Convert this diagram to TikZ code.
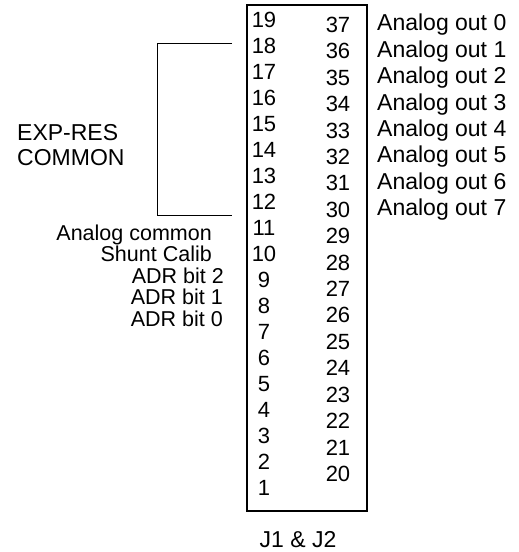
\documentclass[tikz,border=0pt]{standalone}
\usepackage{fontspec}
\setmainfont{Liberation Sans}
\begin{document}
\begin{tikzpicture}[x=1pt,y=-1pt,
  lbl/.style={inner sep=0pt,font=\fontsize{23}{23}\selectfont},
  pinnum/.style={inner sep=0pt,anchor=center,font=\fontsize{22}{22}\selectfont},
  leftlbl/.style={inner sep=0pt,anchor=base east,font=\fontsize{21.5}{21.5}\selectfont},
  rightlbl/.style={lbl,anchor=west},
  boxline/.style={line width=1.3pt},
  wire/.style={line width=0.8pt}]
\useasboundingbox (0,0) rectangle (519,552);
% connector body
\draw[boxline] (247,5) rectangle (367,511);
% left column 19..1
\foreach \n [count=\i from 0] in {19,...,1}{
  \node[pinnum] (L\n) at (264,{20+\i*26.0}) {\n};
}
% right column 37..20
\foreach \n [count=\i from 0] in {37,...,20}{
  \node[pinnum] (R\n) at (338,{25+\i*26.4}) {\n};
}
% analog out labels
\foreach \k in {0,...,7}{
  \node[rightlbl] (A\k) at (377,{25+\k*26.4}) {Analog out \k};
}
% bracket
\coordinate (bt) at (232,43);
\coordinate (bb) at (232,215);
\draw[wire] (bt) -| (157,215) -- (bb);
\node[lbl,align=left,anchor=west] (exp) at (17,145) {EXP-RES\\[2pt]COMMON};
% left labels
\node[leftlbl] (ac) at (212,240) {Analog common};
\node[leftlbl] (sc) at (212,261.5) {Shunt Calib};
\node[leftlbl] (a2) at (224,283) {ADR bit 2};
\node[leftlbl] (a1) at (223,304.5) {ADR bit 1};
\node[leftlbl] (a0) at (223,326) {ADR bit 0};
\node[lbl] (title) at (298,540) {J1 \& J2};
\end{tikzpicture}
\end{document}
